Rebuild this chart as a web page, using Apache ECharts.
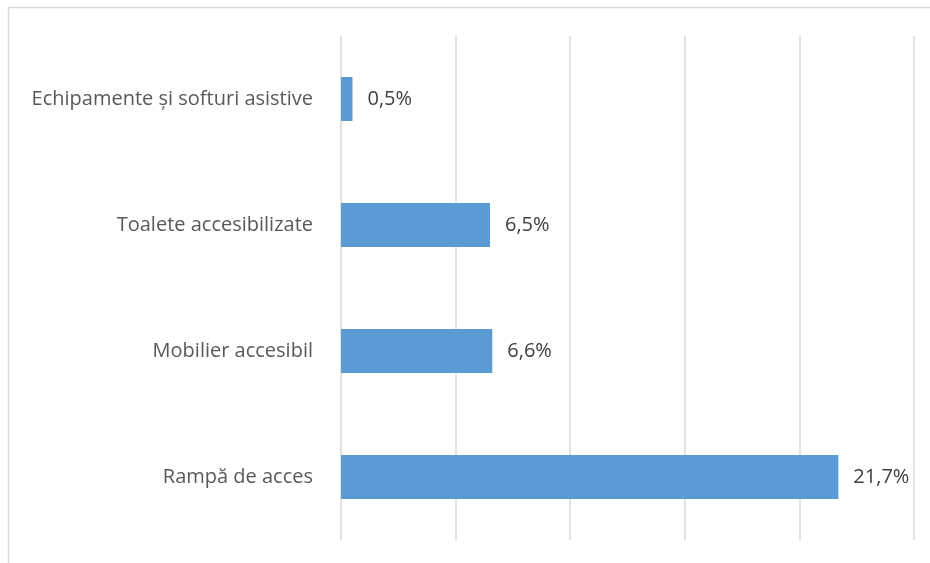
<!DOCTYPE html>
<html>
<head>
<meta charset="utf-8">
<script src="https://cdn.jsdelivr.net/npm/echarts@6/dist/echarts.min.js"></script>
<style>
html,body{margin:0;padding:0;background:#fff;}
#chart{width:930px;height:563px;}
</style>
</head>
<body>
<div id="chart"></div>
<script>
// Categories listed bottom-to-top (category axis on y starts at the bottom)
const categories = ['Rampă de acces', 'Mobilier accesibil', 'Toalete accesibilizate', 'Echipamente și softuri asistive'];
const values = [21.7, 6.6, 6.5, 0.5];
const xTicks = [0, 5, 10, 15, 20, 25];

const fontFamily = '"Open Sans", sans-serif';
const chart = echarts.init(document.getElementById('chart'));

chart.setOption({
  animation: false,
  backgroundColor: '#ffffff',
  graphic: [{
    type: 'rect',
    shape: { x: 8.5, y: 7.5, width: 1200, height: 1200 },
    style: { fill: 'none', stroke: '#d9d9d9', lineWidth: 1.5 },
    silent: true
  }],
  grid: { left: 341, right: 16, top: 36, bottom: 23, containLabel: false },
  xAxis: {
    type: 'value',
    min: xTicks[0],
    max: xTicks[xTicks.length - 1],
    interval: 5,
    axisLine: { show: false },
    axisTick: { show: false },
    axisLabel: { show: false },
    splitLine: { show: true, lineStyle: { color: '#d9d9d9', width: 1.5 } }
  },
  yAxis: {
    type: 'category',
    data: categories,
    axisLine: { show: false },
    axisTick: { show: false },
    axisLabel: { color: '#595959', fontSize: 20, fontFamily: fontFamily, margin: 28 }
  },
  series: [{
    type: 'bar',
    data: values,
    barWidth: 44,
    itemStyle: { color: '#5b9bd5' },
    label: {
      show: true,
      position: 'right',
      distance: 15,
      color: '#404040',
      fontSize: 20,
      fontFamily: fontFamily,
      formatter: p => p.value.toFixed(1).replace('.', ',') + '%'
    }
  }]
});
</script>
</body>
</html>
